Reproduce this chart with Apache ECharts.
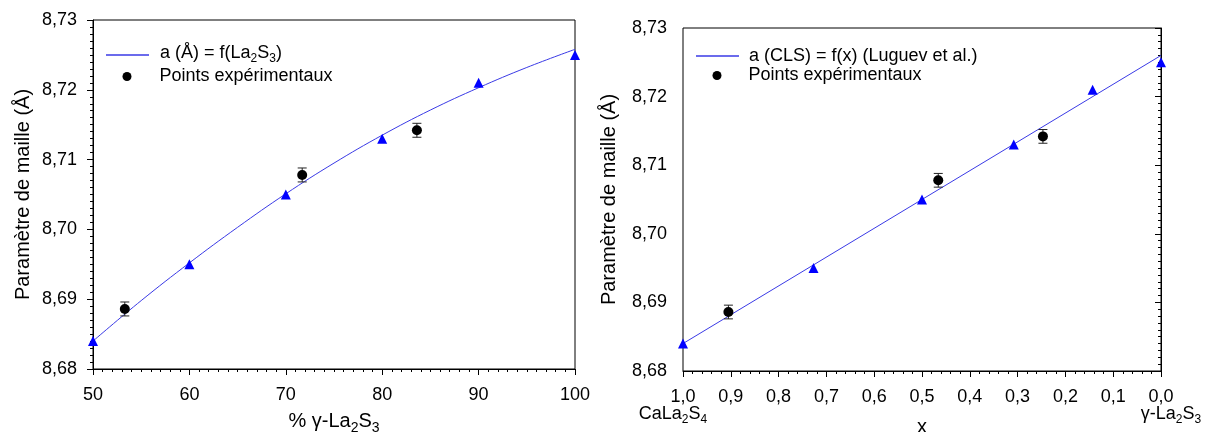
<!DOCTYPE html>
<html><head><meta charset="utf-8">
<script src="https://cdn.jsdelivr.net/npm/echarts@6/dist/echarts.min.js"></script>
<style>html,body{margin:0;padding:0;background:#fff}#c{width:1207px;height:432px}</style>
</head><body><div id="c"></div>
<script>
// ---- data ----
const pctTri = [50, 60, 70, 80, 90, 100];
const aTri = [8.684, 8.695, 8.705, 8.713, 8.721, 8.725];
const xTri = [1.0, 0.727, 0.5, 0.308, 0.143, 0.0];
const pctCurve = [50, 55, 60, 65, 70, 75, 80, 85, 90, 95, 100];
const aCurve = [8.6840, 8.6898, 8.6952, 8.7003, 8.7051, 8.7095, 8.7135, 8.7171, 8.7203, 8.7232, 8.7258];
const xLine = [1.0, 0.0];
const aLine = [8.684, 8.726];
const pctExp = [53.3, 71.7, 83.6];
const xExp = [0.905, 0.466, 0.247];
const aExp = [8.6886, 8.7078, 8.7142];
const errExp = [0.001, 0.001, 0.001];

const FONT = 'Liberation Sans, Arial, sans-serif';
const BLUE = '#0000ff';
const LINEBLUE = '#3a3ae6';
const rich = {
  n: {fontSize: 18, fontFamily: FONT, color: '#000', verticalAlign: 'top', lineHeight: 22},
  s: {fontSize: 12, fontFamily: FONT, color: '#000', verticalAlign: 'top', lineHeight: 22, padding: [9, 0, 0, 0]},
  N: {fontSize: 20, fontFamily: FONT, color: '#000', verticalAlign: 'top', lineHeight: 24},
  S: {fontSize: 14, fontFamily: FONT, color: '#000', verticalAlign: 'top', lineHeight: 24, padding: [10, 0, 0, 0]}
};
const comma = (v, d) => v.toFixed(d).replace('.', ',');
function zip(a, b) { return a.map((v, i) => [v, b[i]]); }
function errData(xs) { return xs.map((x, i) => [x, aExp[i] - errExp[i], aExp[i] + errExp[i]]); }

function errRender(params, api) {
  const x = api.value(0);
  const lo = api.coord([x, api.value(1)]);
  const hi = api.coord([x, api.value(2)]);
  const w = 4.5;
  const st = {stroke: '#222', lineWidth: 1};
  return {type: 'group', children: [
    {type: 'line', shape: {x1: lo[0], y1: lo[1], x2: hi[0], y2: hi[1]}, style: st},
    {type: 'line', shape: {x1: lo[0] - w, y1: lo[1], x2: lo[0] + w, y2: lo[1]}, style: st},
    {type: 'line', shape: {x1: hi[0] - w, y1: hi[1], x2: hi[0] + w, y2: hi[1]}, style: st}
  ]};
}

const yAxisBase = (gi, gap) => ({
  type: 'value', gridIndex: gi, min: 8.68, max: 8.73, interval: 0.01,
  name: 'Paramètre de maille (Å)', nameLocation: 'middle', nameGap: gap,
  nameTextStyle: {fontSize: 20, fontFamily: FONT, color: '#000'},
  axisLine: {show: true, lineStyle: {color: '#000', width: 1}},
  axisTick: {show: true, length: 6, lineStyle: {color: '#000'}},
  minorTick: {show: true, splitNumber: 10, length: 3, lineStyle: {color: '#000'}},
  splitLine: {show: false}, minorSplitLine: {show: false},
  axisLabel: {fontSize: 18, fontFamily: FONT, color: '#000', margin: 16, showMinLabel: true, showMaxLabel: true,
    hideOverlap: false, formatter: v => comma(v, 2)}
});

const legendText = (pad) => ({fontSize: 18, fontFamily: FONT, color: '#000', rich: rich, padding: [0, 0, 0, pad]});

const option = {
  animation: false,
  backgroundColor: '#fff',
  grid: [
    {left: 93, top: 20, width: 482, height: 349, show: true, borderColor: '#000', borderWidth: 1,
     containLabel: false, outerBoundsMode: 'none'},
    {left: 683, top: 28, width: 478, height: 343, show: true, borderColor: '#000', borderWidth: 1,
     containLabel: false, outerBoundsMode: 'none'}
  ],
  xAxis: [
    {type: 'value', gridIndex: 0, position: 'bottom', min: 50, max: 100, interval: 10,
     name: '{N|% γ-La}{S|2}{N|S}{S|3}', nameLocation: 'middle', nameGap: 42,
     nameTextStyle: {fontSize: 20, fontFamily: FONT, color: '#000', rich: rich},
     axisLine: {lineStyle: {color: '#000'}},
     axisTick: {length: 6, lineStyle: {color: '#000'}},
     minorTick: {show: true, splitNumber: 10, length: 3, lineStyle: {color: '#000'}},
     splitLine: {show: false},
     axisLabel: {fontSize: 18, fontFamily: FONT, color: '#000', margin: 17, showMinLabel: true, showMaxLabel: true, hideOverlap: false}},
    {type: 'value', gridIndex: 1, position: 'bottom', min: 0, max: 1, interval: 0.1, inverse: true,
     name: 'x', nameLocation: 'middle', nameGap: 46,
     nameTextStyle: {fontSize: 20, fontFamily: FONT, color: '#000'},
     axisLine: {lineStyle: {color: '#000'}},
     axisTick: {length: 6, lineStyle: {color: '#000'}},
     minorTick: {show: true, splitNumber: 5, length: 3, lineStyle: {color: '#000'}},
     splitLine: {show: false},
     axisLabel: {fontSize: 18, fontFamily: FONT, color: '#000', margin: 17,
       showMinLabel: true, showMaxLabel: true, hideOverlap: false, formatter: v => comma(v, 1)}},
    {type: 'value', gridIndex: 1, position: 'bottom', offset: 0, min: 0, max: 1, interval: 0.1, inverse: true,
     axisLine: {show: false}, axisTick: {show: false}, splitLine: {show: false},
     axisLabel: {show: true, margin: 34, rich: rich, showMinLabel: true, showMaxLabel: true, hideOverlap: false,
       formatter: v => {
         if (Math.abs(v - 1) < 1e-9) return '{n|CaLa}{s|2}{n|S}{s|4}{n|    }';
         if (Math.abs(v) < 1e-9) return '{n|    }{n|γ-La}{s|2}{n|S}{s|3}';
         return '';
       }}}
  ],
  yAxis: [yAxisBase(0, 60), yAxisBase(1, 64)],
  legend: [
    {data: [{name: 'a (Å) = f(La2S3)', icon: 'rect'}], left: 106, top: 44, padding: 0,
     itemWidth: 43, itemHeight: 1.5,
     formatter: () => '{n|a (Å) = f(La}{s|2}{n|S}{s|3}{n|)}', textStyle: legendText(6)},
    {data: [{name: 'Points expérimentaux', icon: 'circle'}], left: 122.5, top: 67.5, padding: 0,
     itemWidth: 9, itemHeight: 9, textStyle: legendText(23)},
    {data: [{name: 'a (CLS) = f(x) (Luguev et al.)', icon: 'rect'}], left: 696, top: 47, padding: 0,
     itemWidth: 43, itemHeight: 1.5, textStyle: legendText(5)},
    {data: [{name: 'Points expérimentaux ', icon: 'circle'}], left: 712.5, top: 66.5, padding: 0,
     itemWidth: 9, itemHeight: 9, textStyle: legendText(22)}
  ],
  series: [
    {name: 'a (Å) = f(La2S3)', type: 'line', xAxisIndex: 0, yAxisIndex: 0, smooth: 0.4, symbol: 'none',
     data: zip(pctCurve, aCurve), lineStyle: {color: LINEBLUE, width: 1}, itemStyle: {color: LINEBLUE}, z: 2},
    {name: 'tri1', type: 'scatter', xAxisIndex: 0, yAxisIndex: 0, symbol: 'triangle', symbolSize: 10,
     data: zip(pctTri, aTri), itemStyle: {color: BLUE, opacity: 1}, z: 3},
    {name: 'err1', type: 'custom', xAxisIndex: 0, yAxisIndex: 0, renderItem: errRender,
     data: errData(pctExp), z: 3, encode: {x: 0, y: [1, 2]}},
    {name: 'Points expérimentaux', type: 'scatter', xAxisIndex: 0, yAxisIndex: 0, symbol: 'circle', symbolSize: 10,
     data: zip(pctExp, aExp), itemStyle: {color: '#000', opacity: 1}, z: 4},

    {name: 'a (CLS) = f(x) (Luguev et al.)', type: 'line', xAxisIndex: 1, yAxisIndex: 1, symbol: 'none',
     data: zip(xLine, aLine), lineStyle: {color: LINEBLUE, width: 1}, itemStyle: {color: LINEBLUE}, z: 2},
    {name: 'tri2', type: 'scatter', xAxisIndex: 1, yAxisIndex: 1, symbol: 'triangle', symbolSize: 10,
     data: zip(xTri, aTri), itemStyle: {color: BLUE, opacity: 1}, z: 3},
    {name: 'err2', type: 'custom', xAxisIndex: 1, yAxisIndex: 1, renderItem: errRender,
     data: errData(xExp), z: 3, encode: {x: 0, y: [1, 2]}},
    {name: 'Points expérimentaux ', type: 'scatter', xAxisIndex: 1, yAxisIndex: 1, symbol: 'circle', symbolSize: 10,
     data: zip(xExp, aExp), itemStyle: {color: '#000', opacity: 1}, z: 4}
  ]
};
const chart = echarts.init(document.getElementById('c'), null, {renderer: 'canvas'});
chart.setOption(option);
</script>
</body></html>
